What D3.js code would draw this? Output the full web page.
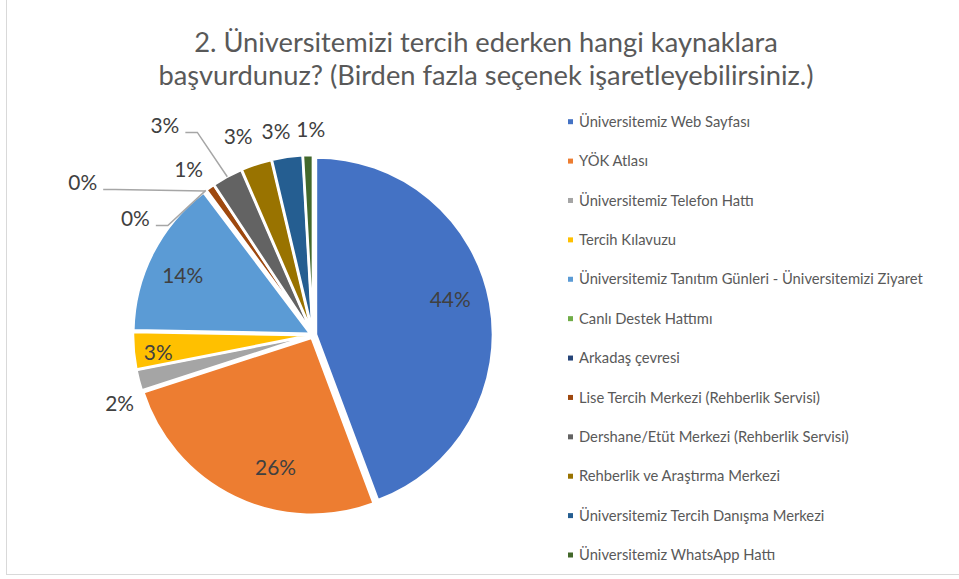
<!DOCTYPE html>
<html>
<head>
<meta charset="utf-8">
<script src="https://cdn.jsdelivr.net/npm/d3@7"></script>
<style>
body{margin:0;background:#fff;}
text{font-family:Lato,"Open Sans",sans-serif;}
</style>
</head>
<body>
<script>
var width = 959;
var height = 579;

// data
var categories = ["Üniversitemiz Web Sayfası","YÖK Atlası","Üniversitemiz Telefon Hattı","Tercih Kılavuzu",
  "Üniversitemiz Tanıtım Günleri - Üniversitemizi Ziyaret","Canlı Destek Hattımı","Arkadaş çevresi",
  "Lise Tercih Merkezi (Rehberlik Servisi)","Dershane/Etüt Merkezi (Rehberlik Servisi)",
  "Rehberlik ve Araştırma Merkezi","Üniversitemiz Tercih Danışma Merkezi","Üniversitemiz WhatsApp Hattı"];
var shares = [44.3, 25.7, 1.9, 3.4, 14.4, 0.1, 0.1, 0.8, 2.8, 2.8, 2.8, 0.9];
var colors = ["#4472C4","#ED7D31","#A5A5A5","#FFC000","#5B9BD5","#70AD47","#264478","#9E480E","#636363","#997300","#255E91","#43682B"];
var titleLines = ["2. Üniversitemizi tercih ederken hangi kaynaklara","başvurdunuz? (Birden fazla seçenek işaretleyebilirsiniz.)"];

// label placement: [angle shift in degrees, radius factor, leader line]
var labelPlace = [[-4,0.80,0],[-10,0.78,0],[-5,1.16,0],[-1.3,0.88,0],[-2.4,0.81,0],
  [-19.6,1.56,1],[-20.2,1.2,1],[-2,1.17,0],[-6.8,1.45,1],[-2.3,1.2,0],[-2,1.17,0],[1,1.16,0]];

var svg = d3.select("body").append("svg")
  .attr("width", width).attr("height", height);

// chart frame (only left and bottom edges are inside the picture)
svg.append("rect")
  .attr("x", 6.5).attr("y", -5).attr("width", 1000).attr("height", 579.5)
  .attr("fill", "none").attr("stroke", "#d9d9d9").attr("stroke-width", 1);

function fit(sel, target){
  var w = sel.node().getComputedTextLength();
  var fs = parseFloat(sel.attr("font-size"));
  sel.attr("font-size", fs * target / w);
  return fs * target / w;
}

// title
var t1 = svg.append("text").attr("x", 486).attr("y", 52).attr("text-anchor","middle")
  .attr("font-size", 26).attr("fill","#595959").text(titleLines[0]);
var tfs = fit(t1, 584);
svg.append("text").attr("x", 486).attr("y", 85).attr("text-anchor","middle")
  .attr("font-size", tfs).attr("fill","#595959").text(titleLines[1]);

var cx = 313, cy = 335, R = 177;
var g = svg.append("g").attr("transform","translate(" + cx + "," + cy + ")");

var data = categories.map(function(c,i){ return {name:c, value:shares[i], color:colors[i], i:i}; });
var pie = d3.pie().sort(null).value(function(d){ return d.value; });
var arcs = pie(data);
var arc = d3.arc().innerRadius(0).outerRadius(R);

function mid(d){ return (d.startAngle + d.endAngle) / 2; }

g.selectAll("path.slice")
  .data(arcs)
  .enter()
  .append("path")
  .attr("class","slice")
  .attr("d", arc)
  .attr("transform", function(d){
    var a = mid(d);
    return "translate(" + (Math.sin(a)*3) + "," + (-Math.cos(a)*3) + ")";
  })
  .attr("fill", function(d){ return d.data.color; })
  .attr("stroke", "#fff")
  .attr("stroke-width", 2.5);

// data labels
var probe = svg.append("text").attr("font-size", 20).text("44%");
var lfs = fit(probe, 41);
probe.remove();

arcs.forEach(function(d, i){
  var p = labelPlace[i];
  var a = mid(d) + p[0] * Math.PI / 180;
  var r = R * p[1];
  var x = Math.sin(a) * r, y = -Math.cos(a) * r;
  var lab = g.append("text")
    .attr("x", x).attr("y", y)
    .attr("dy", "0.35em")
    .attr("text-anchor", "middle")
    .attr("font-size", lfs)
    .attr("fill", "#404040")
    .text(Math.round(d.data.value) + "%");
  if(p[2]){
    var w = lab.node().getComputedTextLength();
    var am = mid(d);
    var ex = Math.sin(am) * (R + 3), ey = -Math.cos(am) * (R + 3);
    var sx = x + w/2 + 6, sy = y + 7;
    g.append("polyline")
      .attr("points", [[sx,sy],[sx+12,sy],[ex,ey]].map(function(q){ return q.join(","); }).join(" "))
      .attr("fill","none")
      .attr("stroke","#a6a6a6")
      .attr("stroke-width",1.5);
  }
});

// legend
var ly = d3.scalePoint().domain(categories).range([121.7, 555]);
var leg = svg.selectAll("g.leg")
  .data(data)
  .enter()
  .append("g")
  .attr("class","leg")
  .attr("transform", function(d){ return "translate(568," + ly(d.name) + ")"; });
leg.append("rect")
  .attr("x", 0).attr("y", -2.5).attr("width", 5).attr("height", 5)
  .attr("fill", function(d){ return d.color; });
var legText = leg.append("text")
  .attr("x", 11).attr("dy", "0.35em")
  .attr("font-size", 13)
  .attr("fill", "#595959")
  .text(function(d){ return d.name; });
var longest = legText.filter(function(d){ return d.i === 4; });
var legfs = fit(longest, 344);
legText.attr("font-size", legfs);
</script>
</body>
</html>
